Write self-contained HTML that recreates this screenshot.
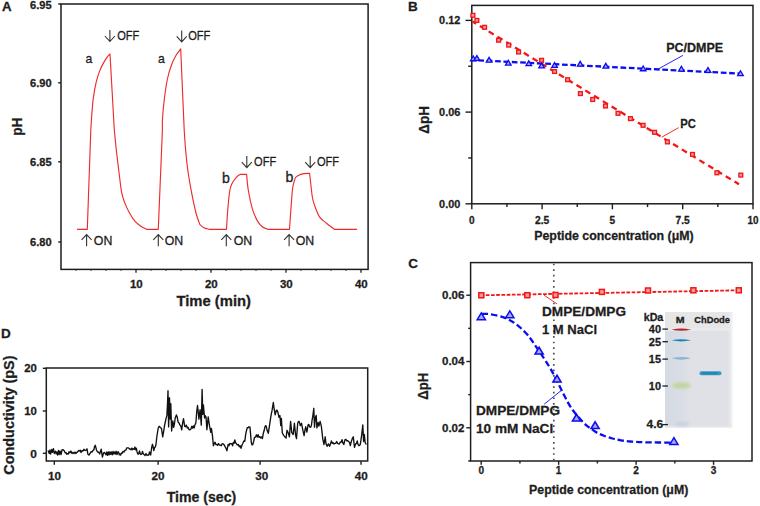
<!DOCTYPE html>
<html><head><meta charset="utf-8"><style>
html,body{margin:0;padding:0;background:#fff;}
svg{display:block;font-family:"Liberation Sans", sans-serif;}
text{stroke:#1a1a1a;stroke-width:0.28px;}
</style></head><body>
<svg width="760" height="506" viewBox="0 0 760 506">
<rect width="760" height="506" fill="#fff"/>
<rect x="61" y="4" width="307.1" height="265.4" fill="none" stroke="#1c1c1c" stroke-width="1.5"/>
<line x1="58.2" y1="4" x2="61" y2="4" stroke="#1e1e1e" stroke-width="1.4"/>
<text x="51.7" y="9.3" font-size="11.2" font-weight="bold" text-anchor="end" fill="#1e1e1e" textLength="21.6" lengthAdjust="spacingAndGlyphs">6.95</text>
<line x1="58.2" y1="82.8" x2="61" y2="82.8" stroke="#1e1e1e" stroke-width="1.4"/>
<text x="51.7" y="86.8" font-size="11.2" font-weight="bold" text-anchor="end" fill="#1e1e1e" textLength="21.6" lengthAdjust="spacingAndGlyphs">6.90</text>
<line x1="58.2" y1="161.8" x2="61" y2="161.8" stroke="#1e1e1e" stroke-width="1.4"/>
<text x="51.7" y="165.6" font-size="11.2" font-weight="bold" text-anchor="end" fill="#1e1e1e" textLength="21.6" lengthAdjust="spacingAndGlyphs">6.85</text>
<line x1="58.2" y1="242" x2="61" y2="242" stroke="#1e1e1e" stroke-width="1.4"/>
<text x="51.7" y="245.9" font-size="11.2" font-weight="bold" text-anchor="end" fill="#1e1e1e" textLength="21.6" lengthAdjust="spacingAndGlyphs">6.80</text>
<line x1="76" y1="269.4" x2="76" y2="270.8" stroke="#1e1e1e" stroke-width="1.1"/>
<line x1="91" y1="269.4" x2="91" y2="270.8" stroke="#1e1e1e" stroke-width="1.1"/>
<line x1="106" y1="269.4" x2="106" y2="270.8" stroke="#1e1e1e" stroke-width="1.1"/>
<line x1="121" y1="269.4" x2="121" y2="270.8" stroke="#1e1e1e" stroke-width="1.1"/>
<line x1="136" y1="269.4" x2="136" y2="272.7" stroke="#1e1e1e" stroke-width="1.3"/>
<line x1="151" y1="269.4" x2="151" y2="270.8" stroke="#1e1e1e" stroke-width="1.1"/>
<line x1="166" y1="269.4" x2="166" y2="270.8" stroke="#1e1e1e" stroke-width="1.1"/>
<line x1="181" y1="269.4" x2="181" y2="270.8" stroke="#1e1e1e" stroke-width="1.1"/>
<line x1="196" y1="269.4" x2="196" y2="270.8" stroke="#1e1e1e" stroke-width="1.1"/>
<line x1="211" y1="269.4" x2="211" y2="272.7" stroke="#1e1e1e" stroke-width="1.3"/>
<line x1="226" y1="269.4" x2="226" y2="270.8" stroke="#1e1e1e" stroke-width="1.1"/>
<line x1="241" y1="269.4" x2="241" y2="270.8" stroke="#1e1e1e" stroke-width="1.1"/>
<line x1="256" y1="269.4" x2="256" y2="270.8" stroke="#1e1e1e" stroke-width="1.1"/>
<line x1="271" y1="269.4" x2="271" y2="270.8" stroke="#1e1e1e" stroke-width="1.1"/>
<line x1="286" y1="269.4" x2="286" y2="272.7" stroke="#1e1e1e" stroke-width="1.3"/>
<line x1="301" y1="269.4" x2="301" y2="270.8" stroke="#1e1e1e" stroke-width="1.1"/>
<line x1="316" y1="269.4" x2="316" y2="270.8" stroke="#1e1e1e" stroke-width="1.1"/>
<line x1="331" y1="269.4" x2="331" y2="270.8" stroke="#1e1e1e" stroke-width="1.1"/>
<line x1="346" y1="269.4" x2="346" y2="270.8" stroke="#1e1e1e" stroke-width="1.1"/>
<line x1="361" y1="269.4" x2="361" y2="272.7" stroke="#1e1e1e" stroke-width="1.3"/>
<text x="136.3" y="288.3" font-size="10.8" font-weight="bold" text-anchor="middle" fill="#1e1e1e" textLength="12.8" lengthAdjust="spacingAndGlyphs">10</text>
<text x="211.3" y="288.3" font-size="10.8" font-weight="bold" text-anchor="middle" fill="#1e1e1e" textLength="12.8" lengthAdjust="spacingAndGlyphs">20</text>
<text x="286.3" y="288.3" font-size="10.8" font-weight="bold" text-anchor="middle" fill="#1e1e1e" textLength="12.8" lengthAdjust="spacingAndGlyphs">30</text>
<text x="361.3" y="288.3" font-size="10.8" font-weight="bold" text-anchor="middle" fill="#1e1e1e" textLength="12.8" lengthAdjust="spacingAndGlyphs">40</text>
<text x="213.7" y="305.6" font-size="14.7" font-weight="bold" text-anchor="middle" fill="#1e1e1e" textLength="74.6" lengthAdjust="spacingAndGlyphs">Time (min)</text>
<text transform="translate(21.5,126.7) rotate(-90)" x="0" y="0" font-size="14.8" font-weight="bold" text-anchor="middle" fill="#1e1e1e" textLength="18.3" lengthAdjust="spacingAndGlyphs">pH</text>
<text x="2" y="11.1" font-size="13.3" font-weight="bold" text-anchor="start" fill="#1e1e1e">A</text>
<path d="M77,229.3 L87.3,229.3 L90.8,130 C90.98,127.2 91.47,118.63 91.9,113.2 C92.33,107.77 92.67,102.67 93.4,97.4 C94.13,92.13 95.23,86.07 96.3,81.6 C97.37,77.13 98.57,73.77 99.8,70.6 C101.03,67.43 102.38,64.98 103.7,62.6 C105.02,60.22 106.65,57.73 107.7,56.3 C108.75,54.87 109.62,54.38 110,54 L114.3,130 C114.65,133.45 115.63,143.78 116.4,150.7 C117.17,157.62 118.03,164.58 118.9,171.5 C119.77,178.42 120.63,187.02 121.6,192.2 C122.57,197.38 123.38,199.13 124.7,202.6 C126.02,206.07 127.77,209.88 129.5,213 C131.23,216.12 133.13,219.05 135.1,221.3 C137.07,223.55 139.4,225.17 141.3,226.5 C143.2,227.83 145.63,228.83 146.5,229.3 L158.3,229.3 L162.4,130 C162.42,128.17 162.18,124.12 162.5,119 C162.82,113.88 163.5,105.88 164.3,99.3 C165.1,92.72 166.15,85.1 167.3,79.5 C168.45,73.9 169.78,69.65 171.2,65.7 C172.62,61.75 174.22,58.6 175.8,55.8 C177.38,53 179.88,50.05 180.7,48.9 L184.2,130 C184.45,133.45 185.07,143.78 185.7,150.7 C186.33,157.62 187.03,164.58 188,171.5 C188.97,178.42 190.17,185.28 191.5,192.2 C192.83,199.12 194.62,207.63 196,213 C197.38,218.37 199.17,222.5 199.8,224.4 C200.48,224.95 202.35,226.88 203.9,227.7 C205.45,228.52 208.23,229.03 209.1,229.3 L226.5,229.3 C226.72,225.97 227.25,215.77 227.8,209.3 C228.35,202.83 229.13,194.72 229.8,190.5 C230.47,186.28 230.97,185.87 231.8,184 C232.63,182.13 233.82,180.63 234.8,179.3 C235.78,177.97 236.72,176.83 237.7,176 C238.68,175.17 240.2,174.58 240.7,174.3 L246.6,174.3 C246.87,176.83 247.22,183.67 248.2,189.5 C249.18,195.33 250.95,204.03 252.5,209.3 C254.05,214.57 255.92,218.23 257.5,221.1 C259.08,223.97 260.35,225.13 262,226.5 C263.65,227.87 266.5,228.83 267.4,229.3 L289.5,229.3 C289.73,225.97 290.4,215.93 290.9,209.3 C291.4,202.67 291.95,194.15 292.5,189.5 C293.05,184.85 293.62,183.48 294.2,181.4 C294.78,179.32 295.03,178.13 296,177 C296.97,175.87 298.67,175.17 300,174.6 C301.33,174.03 302.4,173.82 304,173.6 C305.6,173.38 308.67,173.35 309.6,173.3 C309.83,175.42 310.5,181.8 311,186 C311.5,190.2 311.93,195.08 312.6,198.5 C313.27,201.92 313.85,203.45 315,206.5 C316.15,209.55 317.58,214.02 319.5,216.8 C321.42,219.58 324.03,221.12 326.5,223.2 C328.97,225.28 333,228.28 334.3,229.3 L357.1,229.3" fill="none" stroke="#ee2b2b" stroke-width="1.15" stroke-linejoin="round"/>
<path d="M109.9,30 L109.9,41.5 M104.9,36 L109.9,41.5 L114.9,36" fill="none" stroke="#333" stroke-width="1.1" stroke-linejoin="miter"/>
<text x="117.2" y="39.8" font-size="12.3" font-weight="normal" text-anchor="start" fill="#1e1e1e" textLength="22.2" lengthAdjust="spacingAndGlyphs" stroke="#1e1e1e" stroke-width="0.3">OFF</text>
<path d="M181.7,30.4 L181.7,41.9 M176.7,36.4 L181.7,41.9 L186.7,36.4" fill="none" stroke="#333" stroke-width="1.1" stroke-linejoin="miter"/>
<text x="188.2" y="40.2" font-size="12.3" font-weight="normal" text-anchor="start" fill="#1e1e1e" textLength="22.2" lengthAdjust="spacingAndGlyphs" stroke="#1e1e1e" stroke-width="0.3">OFF</text>
<path d="M246.8,156.1 L246.8,167.6 M241.8,162.1 L246.8,167.6 L251.8,162.1" fill="none" stroke="#333" stroke-width="1.1" stroke-linejoin="miter"/>
<text x="254.1" y="165.9" font-size="12.3" font-weight="normal" text-anchor="start" fill="#1e1e1e" textLength="22.2" lengthAdjust="spacingAndGlyphs" stroke="#1e1e1e" stroke-width="0.3">OFF</text>
<path d="M310.2,156.1 L310.2,167.6 M305.2,162.1 L310.2,167.6 L315.2,162.1" fill="none" stroke="#333" stroke-width="1.1" stroke-linejoin="miter"/>
<text x="316.9" y="165.9" font-size="12.3" font-weight="normal" text-anchor="start" fill="#1e1e1e" textLength="22.2" lengthAdjust="spacingAndGlyphs" stroke="#1e1e1e" stroke-width="0.3">OFF</text>
<path d="M86.6,246.3 L86.6,234.5 M81.6,239.8 L86.6,234.5 L91.6,239.8" fill="none" stroke="#333" stroke-width="1.1" stroke-linejoin="miter"/>
<text x="93.8" y="244.8" font-size="12.3" font-weight="normal" text-anchor="start" fill="#1e1e1e" textLength="18.5" lengthAdjust="spacingAndGlyphs" stroke="#1e1e1e" stroke-width="0.3">ON</text>
<path d="M158.3,246.3 L158.3,234.5 M153.3,239.8 L158.3,234.5 L163.3,239.8" fill="none" stroke="#333" stroke-width="1.1" stroke-linejoin="miter"/>
<text x="164.7" y="244.8" font-size="12.3" font-weight="normal" text-anchor="start" fill="#1e1e1e" textLength="18.5" lengthAdjust="spacingAndGlyphs" stroke="#1e1e1e" stroke-width="0.3">ON</text>
<path d="M226.3,246.3 L226.3,234.5 M221.3,239.8 L226.3,234.5 L231.3,239.8" fill="none" stroke="#333" stroke-width="1.1" stroke-linejoin="miter"/>
<text x="233.7" y="244.8" font-size="12.3" font-weight="normal" text-anchor="start" fill="#1e1e1e" textLength="18.5" lengthAdjust="spacingAndGlyphs" stroke="#1e1e1e" stroke-width="0.3">ON</text>
<path d="M289.1,246.3 L289.1,234.5 M284.1,239.8 L289.1,234.5 L294.1,239.8" fill="none" stroke="#333" stroke-width="1.1" stroke-linejoin="miter"/>
<text x="295.7" y="244.8" font-size="12.3" font-weight="normal" text-anchor="start" fill="#1e1e1e" textLength="18.5" lengthAdjust="spacingAndGlyphs" stroke="#1e1e1e" stroke-width="0.3">ON</text>
<text x="85.6" y="62.7" font-size="13.5" font-weight="normal" text-anchor="start" fill="#1e1e1e" textLength="6.8" lengthAdjust="spacingAndGlyphs" stroke="#1e1e1e" stroke-width="0.3">a</text>
<text x="158" y="62.6" font-size="13.5" font-weight="normal" text-anchor="start" fill="#1e1e1e" textLength="6.8" lengthAdjust="spacingAndGlyphs" stroke="#1e1e1e" stroke-width="0.3">a</text>
<text x="222.1" y="182.9" font-size="13.8" font-weight="normal" text-anchor="start" fill="#1e1e1e" textLength="7.9" lengthAdjust="spacingAndGlyphs" stroke="#1e1e1e" stroke-width="0.3">b</text>
<text x="285.4" y="182.4" font-size="13.8" font-weight="normal" text-anchor="start" fill="#1e1e1e" textLength="7.9" lengthAdjust="spacingAndGlyphs" stroke="#1e1e1e" stroke-width="0.3">b</text>
<rect x="46.3" y="368" width="321.4" height="93" fill="none" stroke="#1e1e1e" stroke-width="1.5"/>
<line x1="42.8" y1="368.3" x2="46.3" y2="368.3" stroke="#1e1e1e" stroke-width="1.4"/>
<text x="36.9" y="371.9" font-size="10.8" font-weight="bold" text-anchor="end" fill="#1e1e1e" textLength="12.6" lengthAdjust="spacingAndGlyphs">20</text>
<line x1="42.8" y1="411" x2="46.3" y2="411" stroke="#1e1e1e" stroke-width="1.4"/>
<text x="36.9" y="414.9" font-size="10.8" font-weight="bold" text-anchor="end" fill="#1e1e1e" textLength="12.6" lengthAdjust="spacingAndGlyphs">10</text>
<line x1="42.8" y1="453.3" x2="46.3" y2="453.3" stroke="#1e1e1e" stroke-width="1.4"/>
<text x="36.9" y="457.6" font-size="10.8" font-weight="bold" text-anchor="end" fill="#1e1e1e" textLength="6.6" lengthAdjust="spacingAndGlyphs">0</text>
<line x1="54.3" y1="461" x2="54.3" y2="464.8" stroke="#1e1e1e" stroke-width="1.4"/>
<text x="54.6" y="480.1" font-size="10.8" font-weight="bold" text-anchor="middle" fill="#1e1e1e" textLength="13" lengthAdjust="spacingAndGlyphs">10</text>
<line x1="158.1" y1="461" x2="158.1" y2="464.8" stroke="#1e1e1e" stroke-width="1.4"/>
<text x="157.9" y="480.1" font-size="10.8" font-weight="bold" text-anchor="middle" fill="#1e1e1e" textLength="13" lengthAdjust="spacingAndGlyphs">20</text>
<line x1="260.1" y1="461" x2="260.1" y2="464.8" stroke="#1e1e1e" stroke-width="1.4"/>
<text x="261.8" y="480.1" font-size="10.8" font-weight="bold" text-anchor="middle" fill="#1e1e1e" textLength="13" lengthAdjust="spacingAndGlyphs">30</text>
<line x1="361" y1="461" x2="361" y2="464.8" stroke="#1e1e1e" stroke-width="1.4"/>
<text x="361.3" y="480.1" font-size="10.8" font-weight="bold" text-anchor="middle" fill="#1e1e1e" textLength="13" lengthAdjust="spacingAndGlyphs">40</text>
<text x="201.5" y="501.6" font-size="14.4" font-weight="bold" text-anchor="middle" fill="#1e1e1e" textLength="69.6" lengthAdjust="spacingAndGlyphs">Time (sec)</text>
<text transform="translate(13.6,415.1) rotate(-90)" x="0" y="0" font-size="14.4" font-weight="bold" text-anchor="middle" fill="#1e1e1e" textLength="119.2" lengthAdjust="spacingAndGlyphs">Conductivity (pS)</text>
<text x="1" y="337.7" font-size="13.5" font-weight="bold" text-anchor="start" fill="#1e1e1e">D</text>
<path d="M48.1,450.4 L49.3,453.5 L50,450 L50.6,454 L51.8,449.5 L52.5,452.3 L53.4,448.7 L54.3,453.5 L55.5,451.2 L56.2,453.8 L57,452 L57.6,455 L58.5,450.5 L59.2,454.5 L60,451 L61,454.5 L62,450 L63.2,449.6 L64.5,451.2 L65.25,452.95 L66,452.5 L66.75,454.33 L67.5,453.7 L68.25,454.03 L69,451.8 L69.95,452.84 L70.9,451 L72,453.6 L73,452.32 L74,453.5 L75,452.08 L76,453.5 L76.75,452.27 L77.5,452 L78.5,450.56 L79.5,451 L80.25,450.31 L81,452.5 L82,450.62 L83,451 L83.9,449.25 L84.8,450.3 L85.5,450.4 L86.25,450.17 L87,448.8 L87.8,453.9 L89,455.1 L90.2,453.2 L91.2,451.66 L92.2,452 L93,450.29 L93.8,450 L94.55,446.63 L95.3,445.3 L96.5,450 L97.5,452.05 L98.5,452 L99.7,454 L100.45,451.14 L101.2,449.2 L102.4,457.1 L103.6,452.8 L104.4,452.47 L105.2,453.5 L105.99,454.81 L106.78,451.97 L107.56,455.32 L108.35,452.02 L109.14,454.75 L109.92,451.81 L110.71,454.3 L111.5,451.84 L112.29,454.77 L113.08,451.44 L113.86,454.07 L114.65,451.96 L115.44,454 L116.22,451.29 L117.01,454.66 L117.8,452 L118.53,451.92 L119.27,454.75 L120,454 L120.73,454.99 L121.47,452.85 L122.2,453.2 L123.1,451.31 L124,452 L125,450.4 L126,450 L126.8,447.85 L127.6,447.9 L128.55,447.87 L129.5,449 L130.3,448.9 L131.1,449.7 L131.9,448 L132.7,449.7 L133.5,448.7 L134.22,449.28 L134.95,447.02 L135.68,449.77 L136.4,448.3 L137.1,451.95 L137.8,454.1 L138.65,454.01 L139.5,451 L140.25,453.77 L141,454.5 L141.75,454.16 L142.5,451.5 L143.25,453.67 L144,454.5 L145,455.44 L146,453.5 L147,455.43 L148,455 L148.75,454.96 L149.5,452 L150.7,455 L151.55,448.26 L152.4,444.3 L153.1,446.69 L153.8,450.6 L154.53,447.67 L155.27,447.02 L156,444.3 L156.8,437 L158.2,428 L159.2,426.3 L160.3,427.5 L161.5,428.6 L162.7,436.9 L163.9,429.8 L164.65,424.85 L165.4,421.5 L166.15,417.86 L166.9,415.6 L167.5,403.7 L168,390.7 L168.6,426.9 L169.5,397.8 L170.2,419.1 L170.8,403.7 L171.6,431 L172.8,420.9 L173.7,427.4 L174.45,423.72 L175.2,418 L176.4,415 L177.25,417.11 L178.1,422.1 L179,423 L179.9,425.1 L180.8,425.9 L181.7,429.8 L182.6,423.13 L183.5,418.6 L184.7,426.3 L185.55,426.73 L186.4,425.1 L187.3,428 L188.2,427.4 L189.1,429.87 L190,429.8 L190.9,429.09 L191.8,426.3 L192.57,428.14 L193.33,425.85 L194.1,428 L195,424.67 L195.9,422.7 L196.7,412.13 L197.5,405.5 L198.2,411.67 L198.9,419.1 L200.1,409.7 L201.3,425.1 L202.1,389.5 L202.8,414.4 L203.4,404.9 L204.6,418 L205.3,415.75 L206,416.8 L206.9,429.7 L208.2,416.9 L209.5,425.8 L210.8,432.3 L211.4,428.4 L212.5,436.1 L213.4,445.8 L214.3,443.2 L215.07,442.3 L215.83,444.54 L216.6,444.5 L217.55,445.28 L218.5,443.5 L219.45,445.13 L220.4,445.1 L221.27,445.72 L222.13,443.77 L223,443.8 L223.95,444.6 L224.9,446.4 L225.9,448.01 L226.9,450.9 L228.1,444.5 L228.97,445.72 L229.83,443.38 L230.7,443.8 L231.65,443.56 L232.6,445.8 L233.33,442.44 L234.07,443.37 L234.8,440 L235.65,442.71 L236.5,443.8 L237.45,444.97 L238.4,444.5 L239.27,446.77 L240.13,445.77 L241,448.3 L241.95,445.19 L242.9,443.2 L243.85,441.01 L244.8,441.3 L245.6,434.86 L246.4,431 L247.25,427.6 L248.1,427.8 L249.05,426.8 L250,427.1 L251.3,442.6 L252.05,444.99 L252.8,444.5 L253.65,441.5 L254.5,437.4 L255.45,437.18 L256.4,434.8 L257.27,437.12 L258.13,434.65 L259,437.4 L259.8,436.62 L260.6,438 L261.5,436.88 L262.4,438.6 L263.3,433.43 L264.2,430.3 L264.95,426.91 L265.7,425.6 L266.4,426.91 L267.1,430.3 L268.3,433.3 L269.5,425.6 L270.9,416.1 L272.1,410.2 L273.3,402.5 L274,407.8 L275.2,414.9 L276.4,410.2 L277.1,410.2 L277.8,411.9 L279,417.3 L279.9,415.5 L280.8,425.6 L281.4,418.5 L282.3,432.7 L283.5,435.1 L284.9,436.9 L286.1,438 L287,430.3 L288.2,432.7 L289.4,436.9 L290.6,421.4 L291.8,432.7 L293.2,434.5 L294.4,423.2 L295.6,435.1 L296.5,438.6 L297.7,423.2 L298.4,421.59 L299.1,421.4 L300.3,425.6 L301.5,423.2 L302.9,430.3 L304.1,435.7 L304.9,430.44 L305.7,426.8 L306.9,432.1 L308,425 L308.8,424.34 L309.6,426.8 L310.6,427.3 L311.35,425.75 L312.1,420.2 L312.95,415.08 L313.8,408.3 L314.5,427.3 L315.3,417.8 L316.2,415.4 L316.9,427.9 L318.1,422.5 L318.9,426.1 L320.1,421.4 L321.3,426.1 L321.9,430.8 L322.8,439.1 L324,444.5 L325.2,436.8 L326,443.9 L327.2,446.3 L328.4,443.9 L329.6,446.3 L330.5,444.1 L331.4,440.9 L332.25,443.29 L333.1,442.7 L334,444.01 L334.9,443.3 L335.8,443.28 L336.7,441.5 L337.6,443.4 L338.5,443.9 L339.35,444.07 L340.2,442.1 L341.1,442.22 L342,439.7 L342.9,443.03 L343.8,444.5 L345,439.7 L345.9,439.41 L346.8,440.9 L347.7,440.69 L348.6,441.5 L349.45,442.19 L350.3,445.7 L351.2,441.92 L352.1,439.1 L353.3,436.8 L354.5,447.4 L355.7,443.9 L356.45,443.37 L357.2,440.9 L358.05,444.63 L358.9,445.7 L359.65,445.39 L360.4,443.9 L361.6,435.6 L362.8,424.9 L363.6,441.5 L364.3,434.4 L365.2,442.7 L366.3,444.5" fill="none" stroke="#111" stroke-width="1.35" stroke-linejoin="round"/>
<rect x="471.8" y="5.4" width="281.2" height="198.4" fill="none" stroke="#1e1e1e" stroke-width="1.5"/>
<line x1="465.5" y1="203.8" x2="471.8" y2="203.8" stroke="#1e1e1e" stroke-width="1.4"/>
<line x1="468.2" y1="157.95" x2="471.8" y2="157.95" stroke="#1e1e1e" stroke-width="1.4"/>
<line x1="465.5" y1="112.1" x2="471.8" y2="112.1" stroke="#1e1e1e" stroke-width="1.4"/>
<line x1="468.2" y1="66.25" x2="471.8" y2="66.25" stroke="#1e1e1e" stroke-width="1.4"/>
<line x1="465.5" y1="20.4" x2="471.8" y2="20.4" stroke="#1e1e1e" stroke-width="1.4"/>
<text x="460.3" y="207.6" font-size="11" font-weight="bold" text-anchor="end" fill="#1e1e1e" textLength="21.2" lengthAdjust="spacingAndGlyphs">0.00</text>
<text x="460.3" y="115.9" font-size="11" font-weight="bold" text-anchor="end" fill="#1e1e1e" textLength="21.2" lengthAdjust="spacingAndGlyphs">0.06</text>
<text x="460.3" y="24.2" font-size="11" font-weight="bold" text-anchor="end" fill="#1e1e1e" textLength="21.2" lengthAdjust="spacingAndGlyphs">0.12</text>
<line x1="471.8" y1="203.8" x2="471.8" y2="209.3" stroke="#1e1e1e" stroke-width="1.4"/>
<line x1="506.95" y1="203.8" x2="506.95" y2="207.1" stroke="#1e1e1e" stroke-width="1.4"/>
<line x1="542.1" y1="203.8" x2="542.1" y2="209.3" stroke="#1e1e1e" stroke-width="1.4"/>
<line x1="577.25" y1="203.8" x2="577.25" y2="207.1" stroke="#1e1e1e" stroke-width="1.4"/>
<line x1="612.4" y1="203.8" x2="612.4" y2="209.3" stroke="#1e1e1e" stroke-width="1.4"/>
<line x1="647.55" y1="203.8" x2="647.55" y2="207.1" stroke="#1e1e1e" stroke-width="1.4"/>
<line x1="682.7" y1="203.8" x2="682.7" y2="209.3" stroke="#1e1e1e" stroke-width="1.4"/>
<line x1="717.85" y1="203.8" x2="717.85" y2="207.1" stroke="#1e1e1e" stroke-width="1.4"/>
<line x1="753" y1="203.8" x2="753" y2="209.3" stroke="#1e1e1e" stroke-width="1.4"/>
<text x="471.8" y="224" font-size="10.5" font-weight="bold" text-anchor="middle" fill="#1e1e1e" textLength="5.6" lengthAdjust="spacingAndGlyphs">0</text>
<text x="542.1" y="224" font-size="10.5" font-weight="bold" text-anchor="middle" fill="#1e1e1e" textLength="14.2" lengthAdjust="spacingAndGlyphs">2.5</text>
<text x="612.4" y="224" font-size="10.5" font-weight="bold" text-anchor="middle" fill="#1e1e1e" textLength="5.6" lengthAdjust="spacingAndGlyphs">5</text>
<text x="682.7" y="224" font-size="10.5" font-weight="bold" text-anchor="middle" fill="#1e1e1e" textLength="14.2" lengthAdjust="spacingAndGlyphs">7.5</text>
<text x="753" y="224" font-size="10.5" font-weight="bold" text-anchor="middle" fill="#1e1e1e" textLength="11" lengthAdjust="spacingAndGlyphs">10</text>
<text x="534.2" y="240.2" font-size="12.6" font-weight="bold" text-anchor="start" fill="#1e1e1e" textLength="159.5" lengthAdjust="spacingAndGlyphs">Peptide concentration (μM)</text>
<text transform="translate(429.4,119.9) rotate(-90)" x="0" y="0" font-size="15.5" font-weight="bold" text-anchor="middle" fill="#1e1e1e" textLength="27.5" lengthAdjust="spacingAndGlyphs">ΔpH</text>
<text x="407.9" y="10.9" font-size="13.5" font-weight="bold" text-anchor="start" fill="#1e1e1e">B</text>
<line x1="472.5" y1="21.5" x2="739" y2="184.3" stroke="#f21616" stroke-width="2.3" stroke-dasharray="5.9 4.39" stroke-dashoffset="1.64"/>
<line x1="472.5" y1="60" x2="741" y2="73.6" stroke="#0c0cf0" stroke-width="2.3" stroke-dasharray="5.7 2.67" stroke-dashoffset="2.49"/>
<rect x="471" y="13.4" width="3.8" height="3.8" fill="#f69a9a" stroke="#f21616" stroke-width="1.35"/>
<rect x="475" y="18.5" width="3.8" height="3.8" fill="#f69a9a" stroke="#f21616" stroke-width="1.35"/>
<rect x="482.7" y="25.4" width="3.8" height="3.8" fill="#f69a9a" stroke="#f21616" stroke-width="1.35"/>
<rect x="496.7" y="38.3" width="3.8" height="3.8" fill="#f69a9a" stroke="#f21616" stroke-width="1.35"/>
<rect x="506.8" y="43.2" width="3.8" height="3.8" fill="#f69a9a" stroke="#f21616" stroke-width="1.35"/>
<rect x="516.7" y="50.1" width="3.8" height="3.8" fill="#f69a9a" stroke="#f21616" stroke-width="1.35"/>
<rect x="539.7" y="58.4" width="3.8" height="3.8" fill="#f69a9a" stroke="#f21616" stroke-width="1.35"/>
<rect x="552.7" y="69.6" width="3.8" height="3.8" fill="#f69a9a" stroke="#f21616" stroke-width="1.35"/>
<rect x="565.7" y="77.8" width="3.8" height="3.8" fill="#f69a9a" stroke="#f21616" stroke-width="1.35"/>
<rect x="578.5" y="91.7" width="3.8" height="3.8" fill="#f69a9a" stroke="#f21616" stroke-width="1.35"/>
<rect x="590.8" y="97.6" width="3.8" height="3.8" fill="#f69a9a" stroke="#f21616" stroke-width="1.35"/>
<rect x="603.6" y="104.1" width="3.8" height="3.8" fill="#f69a9a" stroke="#f21616" stroke-width="1.35"/>
<rect x="616.1" y="111.4" width="3.8" height="3.8" fill="#f69a9a" stroke="#f21616" stroke-width="1.35"/>
<rect x="628.5" y="116.7" width="3.8" height="3.8" fill="#f69a9a" stroke="#f21616" stroke-width="1.35"/>
<rect x="641.2" y="123.4" width="3.8" height="3.8" fill="#f69a9a" stroke="#f21616" stroke-width="1.35"/>
<rect x="652.7" y="130.4" width="3.8" height="3.8" fill="#f69a9a" stroke="#f21616" stroke-width="1.35"/>
<rect x="665.5" y="140" width="3.8" height="3.8" fill="#f69a9a" stroke="#f21616" stroke-width="1.35"/>
<rect x="690.6" y="152.5" width="3.8" height="3.8" fill="#f69a9a" stroke="#f21616" stroke-width="1.35"/>
<rect x="715" y="170.9" width="3.8" height="3.8" fill="#f69a9a" stroke="#f21616" stroke-width="1.35"/>
<rect x="738.9" y="173.2" width="3.8" height="3.8" fill="#f69a9a" stroke="#f21616" stroke-width="1.35"/>
<path d="M473.3,55.96 L476.1,60.76 L470.5,60.76 Z" fill="#a8a8f4" stroke="#0c0cf0" stroke-width="1.3" stroke-linejoin="miter"/>
<path d="M476.9,55.56 L479.7,60.36 L474.1,60.36 Z" fill="#a8a8f4" stroke="#0c0cf0" stroke-width="1.3" stroke-linejoin="miter"/>
<path d="M489.1,57.36 L491.9,62.16 L486.3,62.16 Z" fill="#a8a8f4" stroke="#0c0cf0" stroke-width="1.3" stroke-linejoin="miter"/>
<path d="M508.3,60.26 L511.1,65.06 L505.5,65.06 Z" fill="#a8a8f4" stroke="#0c0cf0" stroke-width="1.3" stroke-linejoin="miter"/>
<path d="M528.8,60.86 L531.6,65.66 L526,65.66 Z" fill="#a8a8f4" stroke="#0c0cf0" stroke-width="1.3" stroke-linejoin="miter"/>
<path d="M541.6,63.16 L544.4,67.96 L538.8,67.96 Z" fill="#a8a8f4" stroke="#0c0cf0" stroke-width="1.3" stroke-linejoin="miter"/>
<path d="M554.6,62.66 L557.4,67.46 L551.8,67.46 Z" fill="#a8a8f4" stroke="#0c0cf0" stroke-width="1.3" stroke-linejoin="miter"/>
<path d="M580.2,61.36 L583,66.16 L577.4,66.16 Z" fill="#a8a8f4" stroke="#0c0cf0" stroke-width="1.3" stroke-linejoin="miter"/>
<path d="M605.8,63.36 L608.6,68.16 L603,68.16 Z" fill="#a8a8f4" stroke="#0c0cf0" stroke-width="1.3" stroke-linejoin="miter"/>
<path d="M643.2,65.96 L646,70.76 L640.4,70.76 Z" fill="#a8a8f4" stroke="#0c0cf0" stroke-width="1.3" stroke-linejoin="miter"/>
<path d="M681.4,66.26 L684.2,71.06 L678.6,71.06 Z" fill="#a8a8f4" stroke="#0c0cf0" stroke-width="1.3" stroke-linejoin="miter"/>
<path d="M708,67.56 L710.8,72.36 L705.2,72.36 Z" fill="#a8a8f4" stroke="#0c0cf0" stroke-width="1.3" stroke-linejoin="miter"/>
<path d="M740.5,70.76 L743.3,75.56 L737.7,75.56 Z" fill="#a8a8f4" stroke="#0c0cf0" stroke-width="1.3" stroke-linejoin="miter"/>
<line x1="682.9" y1="55.4" x2="658.6" y2="68.8" stroke="#0c0cf0" stroke-width="0.9"/>
<line x1="678.6" y1="127.7" x2="661.7" y2="137.2" stroke="#f21616" stroke-width="0.9"/>
<text x="666.2" y="52.1" font-size="13" font-weight="bold" text-anchor="start" fill="#1e1e1e" textLength="57" lengthAdjust="spacingAndGlyphs">PC/DMPE</text>
<text x="680.3" y="128.2" font-size="13" font-weight="bold" text-anchor="start" fill="#1e1e1e" textLength="15.6" lengthAdjust="spacingAndGlyphs">PC</text>
<rect x="470.6" y="262.6" width="281.4" height="198.39999999999998" fill="none" stroke="#1e1e1e" stroke-width="1.5"/>
<line x1="466.3" y1="295.2" x2="470.6" y2="295.2" stroke="#1e1e1e" stroke-width="1.4"/>
<line x1="468.2" y1="328.35" x2="470.6" y2="328.35" stroke="#1e1e1e" stroke-width="1.4"/>
<line x1="466.3" y1="361.5" x2="470.6" y2="361.5" stroke="#1e1e1e" stroke-width="1.4"/>
<line x1="468.2" y1="394.65" x2="470.6" y2="394.65" stroke="#1e1e1e" stroke-width="1.4"/>
<line x1="466.3" y1="427.8" x2="470.6" y2="427.8" stroke="#1e1e1e" stroke-width="1.4"/>
<line x1="468.2" y1="460.95" x2="470.6" y2="460.95" stroke="#1e1e1e" stroke-width="1.4"/>
<text x="464.4" y="299.1" font-size="11" font-weight="bold" text-anchor="end" fill="#1e1e1e" textLength="22.4" lengthAdjust="spacingAndGlyphs">0.06</text>
<text x="464.4" y="365.4" font-size="11" font-weight="bold" text-anchor="end" fill="#1e1e1e" textLength="22.4" lengthAdjust="spacingAndGlyphs">0.04</text>
<text x="464.4" y="431.7" font-size="11" font-weight="bold" text-anchor="end" fill="#1e1e1e" textLength="22.4" lengthAdjust="spacingAndGlyphs">0.02</text>
<line x1="481.2" y1="461" x2="481.2" y2="464.8" stroke="#1e1e1e" stroke-width="1.4"/>
<line x1="519.92" y1="461" x2="519.92" y2="463.5" stroke="#1e1e1e" stroke-width="1.4"/>
<line x1="558.65" y1="461" x2="558.65" y2="464.8" stroke="#1e1e1e" stroke-width="1.4"/>
<line x1="597.38" y1="461" x2="597.38" y2="463.5" stroke="#1e1e1e" stroke-width="1.4"/>
<line x1="636.1" y1="461" x2="636.1" y2="464.8" stroke="#1e1e1e" stroke-width="1.4"/>
<line x1="674.83" y1="461" x2="674.83" y2="463.5" stroke="#1e1e1e" stroke-width="1.4"/>
<line x1="713.55" y1="461" x2="713.55" y2="464.8" stroke="#1e1e1e" stroke-width="1.4"/>
<text x="481.2" y="474.3" font-size="10.5" font-weight="bold" text-anchor="middle" fill="#1e1e1e" textLength="5.6" lengthAdjust="spacingAndGlyphs">0</text>
<text x="558.65" y="474.3" font-size="10.5" font-weight="bold" text-anchor="middle" fill="#1e1e1e" textLength="5.6" lengthAdjust="spacingAndGlyphs">1</text>
<text x="636.1" y="474.3" font-size="10.5" font-weight="bold" text-anchor="middle" fill="#1e1e1e" textLength="5.6" lengthAdjust="spacingAndGlyphs">2</text>
<text x="713.55" y="474.3" font-size="10.5" font-weight="bold" text-anchor="middle" fill="#1e1e1e" textLength="5.6" lengthAdjust="spacingAndGlyphs">3</text>
<text x="529.1" y="494.3" font-size="12.6" font-weight="bold" text-anchor="start" fill="#1e1e1e" textLength="159.2" lengthAdjust="spacingAndGlyphs">Peptide concentration (μM)</text>
<text transform="translate(427.9,386.3) rotate(-90)" x="0" y="0" font-size="15.5" font-weight="bold" text-anchor="middle" fill="#1e1e1e" textLength="27" lengthAdjust="spacingAndGlyphs">ΔpH</text>
<text x="408.2" y="267.8" font-size="13.5" font-weight="bold" text-anchor="start" fill="#1e1e1e">C</text>
<line x1="553.8" y1="263.65" x2="553.8" y2="460" stroke="#505050" stroke-width="1.7" stroke-dasharray="1.7 3.873"/>
<line x1="481.2" y1="295.3" x2="739" y2="290.3" stroke="#f21616" stroke-width="1.8" stroke-dasharray="3.7 1.51" stroke-dashoffset="0.61"/>
<rect x="478.8" y="292.8" width="5" height="5" fill="#f69a9a" stroke="#f21616" stroke-width="1.5"/>
<rect x="524.8" y="292.7" width="5" height="5" fill="#f69a9a" stroke="#f21616" stroke-width="1.5"/>
<rect x="553" y="292.5" width="5" height="5" fill="#f69a9a" stroke="#f21616" stroke-width="1.5"/>
<rect x="599.4" y="289.4" width="5" height="5" fill="#f69a9a" stroke="#f21616" stroke-width="1.5"/>
<rect x="645.5" y="288" width="5" height="5" fill="#f69a9a" stroke="#f21616" stroke-width="1.5"/>
<rect x="690.9" y="287.8" width="5" height="5" fill="#f69a9a" stroke="#f21616" stroke-width="1.5"/>
<rect x="736.3" y="287.8" width="5" height="5" fill="#f69a9a" stroke="#f21616" stroke-width="1.5"/>
<path d="M481.9,313.8 C483.22,313.87 486.18,313.6 489.8,314.2 C493.42,314.8 499.32,315.82 503.6,317.4 C507.88,318.98 511.55,320.83 515.5,323.7 C519.45,326.57 523.68,330.48 527.3,334.6 C530.92,338.72 533.58,343.13 537.2,348.4 C540.82,353.67 545.7,360.77 549,366.2 C552.3,371.63 554.5,376.2 557,381 C559.5,385.8 561.85,390.85 564,395 C566.15,399.15 568.1,402.93 569.9,405.9 C571.7,408.87 572.98,410.5 574.8,412.8 C576.62,415.1 578.82,417.57 580.8,419.7 C582.78,421.83 584.9,424.03 586.7,425.6 C588.5,427.17 589.8,427.87 591.6,429.1 C593.4,430.33 595.35,431.85 597.5,433 C599.65,434.15 602.02,435.08 604.5,436 C606.98,436.92 609.93,437.83 612.4,438.5 C614.87,439.17 616.37,439.5 619.3,440 C622.23,440.5 625.72,441.12 630,441.5 C634.28,441.88 637.68,442.12 645,442.3 C652.32,442.48 669.08,442.55 673.9,442.6" fill="none" stroke="#0c0cf0" stroke-width="2.3" stroke-dasharray="6.3 3"/>
<path d="M481.3,312.86 L485.4,319.66 L477.2,319.66 Z" fill="#a8a8f4" stroke="#0c0cf0" stroke-width="1.5" stroke-linejoin="miter"/>
<path d="M509.8,310.86 L513.9,317.66 L505.7,317.66 Z" fill="#a8a8f4" stroke="#0c0cf0" stroke-width="1.5" stroke-linejoin="miter"/>
<path d="M539.1,347.26 L543.2,354.06 L535,354.06 Z" fill="#a8a8f4" stroke="#0c0cf0" stroke-width="1.5" stroke-linejoin="miter"/>
<path d="M557,375.26 L561.1,382.06 L552.9,382.06 Z" fill="#a8a8f4" stroke="#0c0cf0" stroke-width="1.5" stroke-linejoin="miter"/>
<path d="M576.5,414.26 L580.6,421.06 L572.4,421.06 Z" fill="#a8a8f4" stroke="#0c0cf0" stroke-width="1.5" stroke-linejoin="miter"/>
<path d="M595.1,421.76 L599.2,428.56 L591,428.56 Z" fill="#a8a8f4" stroke="#0c0cf0" stroke-width="1.5" stroke-linejoin="miter"/>
<path d="M673.9,437.66 L678,444.46 L669.8,444.46 Z" fill="#a8a8f4" stroke="#0c0cf0" stroke-width="1.5" stroke-linejoin="miter"/>
<line x1="544.1" y1="295.2" x2="557" y2="303.9" stroke="#f21616" stroke-width="0.9"/>
<line x1="544.2" y1="404.2" x2="561.5" y2="390.3" stroke="#0c0cf0" stroke-width="0.9"/>
<text x="542" y="316.1" font-size="13.5" font-weight="bold" text-anchor="start" fill="#1e1e1e" textLength="84" lengthAdjust="spacingAndGlyphs">DMPE/DMPG</text>
<text x="542" y="333.9" font-size="13.5" font-weight="bold" text-anchor="start" fill="#1e1e1e" textLength="55" lengthAdjust="spacingAndGlyphs">1 M NaCl</text>
<text x="476" y="415.3" font-size="13.5" font-weight="bold" text-anchor="start" fill="#1e1e1e" textLength="84" lengthAdjust="spacingAndGlyphs">DMPE/DMPG</text>
<text x="476" y="433" font-size="13.5" font-weight="bold" text-anchor="start" fill="#1e1e1e" textLength="77.2" lengthAdjust="spacingAndGlyphs">10 mM NaCl</text>
<defs>
<linearGradient id="gelR" x1="0" y1="0" x2="1" y2="0"><stop offset="0" stop-color="#dfe0e5" stop-opacity="0"/><stop offset="1" stop-color="#f4f4f6"/></linearGradient>
<linearGradient id="gelB" x1="0" y1="0" x2="0" y2="1"><stop offset="0" stop-color="#dfe0e5" stop-opacity="0"/><stop offset="1" stop-color="#eeeef1"/></linearGradient>
<linearGradient id="laneM" x1="0" y1="0" x2="1" y2="0"><stop offset="0" stop-color="#d5dae3"/><stop offset="0.6" stop-color="#d9dde5"/><stop offset="1" stop-color="#e0e1e6" stop-opacity="0"/></linearGradient>
<filter id="bl" x="-50%" y="-100%" width="200%" height="300%"><feGaussianBlur stdDeviation="0.7"/></filter>
<filter id="bl2" x="-50%" y="-100%" width="200%" height="300%"><feGaussianBlur stdDeviation="1.4"/></filter>
</defs>
<rect x="665" y="312" width="67.2" height="115.5" fill="#e0e1e6"/>
<rect x="665" y="331" width="28" height="96.5" fill="url(#laneM)"/>
<rect x="665" y="312" width="67.2" height="16.5" fill="#e6e6e7"/>
<rect x="665" y="328.3" width="67.2" height="2.4" fill="#ebebed"/>
<rect x="726" y="312" width="6.2" height="115.5" fill="url(#gelR)"/>
<rect x="665" y="424.5" width="67.2" height="3" fill="url(#gelB)"/>
<path d="M671.5,329.7 Q681,327.4 691.2,329.7 Q681,332 671.5,329.7 Z" fill="#b5262b" filter="url(#bl)"/>
<path d="M671.5,340.3 Q681,338 691.2,340.3 Q681,342.6 671.5,340.3 Z" fill="#1f86ad" filter="url(#bl)"/>
<path d="M671.5,358.3 Q681,355.6 691.2,358.3 Q681,361 671.5,358.3 Z" fill="#88b7d0" filter="url(#bl)"/>
<ellipse cx="681.5" cy="385.4" rx="9.8" ry="3.2" fill="#c0d5a4" filter="url(#bl2)"/>
<ellipse cx="682" cy="424" rx="7.5" ry="2.6" fill="#c9d3df" filter="url(#bl2)"/>
<rect x="699.5" y="371.3" width="22" height="3.9" rx="1.9" fill="#3599c2" filter="url(#bl)"/>
<rect x="702" y="372.3" width="16" height="1.9" rx="0.9" fill="#1f86b2" filter="url(#bl)"/>
<text x="643.7" y="320.5" font-size="10.6" font-weight="bold" text-anchor="start" fill="#1e1e1e" textLength="19.6" lengthAdjust="spacingAndGlyphs">kDa</text>
<text x="675.8" y="322.6" font-size="9.3" font-weight="bold" text-anchor="start" fill="#1e1e1e" textLength="8.8" lengthAdjust="spacingAndGlyphs">M</text>
<text x="694.2" y="322.6" font-size="9.3" font-weight="bold" text-anchor="start" fill="#1e1e1e" textLength="35.8" lengthAdjust="spacingAndGlyphs">ChDode</text>
<text x="661" y="332.9" font-size="10.6" font-weight="bold" text-anchor="end" fill="#1e1e1e" textLength="12.2" lengthAdjust="spacingAndGlyphs">40</text>
<line x1="662.4" y1="329.1" x2="667.9" y2="329.1" stroke="#1e1e1e" stroke-width="1.3"/>
<text x="661" y="345.5" font-size="10.6" font-weight="bold" text-anchor="end" fill="#1e1e1e" textLength="12.2" lengthAdjust="spacingAndGlyphs">25</text>
<line x1="662.4" y1="341.7" x2="667.9" y2="341.7" stroke="#1e1e1e" stroke-width="1.3"/>
<text x="661" y="362.9" font-size="10.6" font-weight="bold" text-anchor="end" fill="#1e1e1e" textLength="12.2" lengthAdjust="spacingAndGlyphs">15</text>
<line x1="662.4" y1="359.1" x2="667.9" y2="359.1" stroke="#1e1e1e" stroke-width="1.3"/>
<text x="661" y="389.8" font-size="10.6" font-weight="bold" text-anchor="end" fill="#1e1e1e" textLength="12.2" lengthAdjust="spacingAndGlyphs">10</text>
<line x1="662.4" y1="386" x2="667.9" y2="386" stroke="#1e1e1e" stroke-width="1.3"/>
<text x="663.2" y="428.4" font-size="10.6" font-weight="bold" text-anchor="end" fill="#1e1e1e" textLength="16.6" lengthAdjust="spacingAndGlyphs">4.6</text>
<line x1="662.4" y1="424.6" x2="667.9" y2="424.6" stroke="#1e1e1e" stroke-width="1.3"/>
</svg>
</body></html>
